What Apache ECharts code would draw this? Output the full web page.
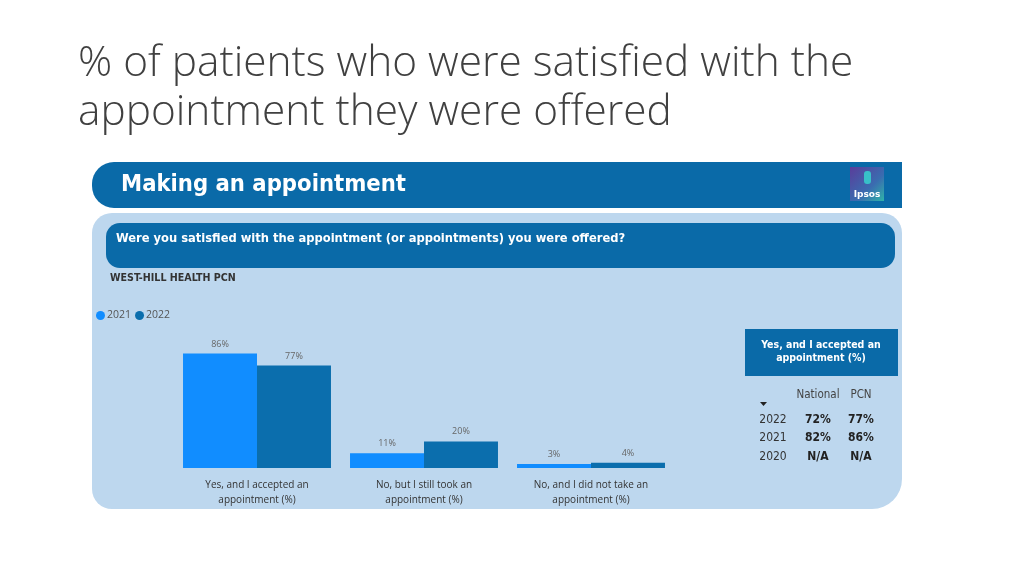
<!DOCTYPE html>
<html><head><meta charset="utf-8">
<script src="https://cdn.jsdelivr.net/npm/echarts@6/dist/echarts.min.js"></script>
<style>html,body{margin:0;padding:0;background:#fff}#c{width:1024px;height:576px}</style>
</head><body><div id="c"></div>
<script>
const categories = ['Yes, and I accepted an\nappointment (%)', 'No, but I still took an\nappointment (%)', 'No, and I did not take an\nappointment (%)'];
const values2021 = [86, 11, 3];
const values2022 = [77, 20, 4];
const seriesNames = ['2021', '2022'];
const tableYears = ['2022', '2021', '2020'];
const tableNational = ['72%', '82%', 'N/A'];
const tablePCN = ['77%', '86%', 'N/A'];

const C21 = '#118dff', C22 = '#0b6ead', DARK = '#0a6aa8', PANEL = '#bdd7ee';
const chart = echarts.init(document.getElementById('c'), null, {renderer: 'canvas'});
const g = [];
// page title
g.push({type:'text', left:78, top:39, z:100, style:{text:'% of patients who were satisfied with the\nappointment they were offered', fill:'#404040', font:'300 42.4px "Open Sans"', lineHeight:49}});
// header bar
g.push({type:'rect', shape:{x:92,y:162,width:810,height:46,r:[22,0,0,22]}, style:{fill:DARK}, z:0});
g.push({type:'text', left:121, top:173, z:100, style:{text:'Making an appointment', fill:'#fff', font:'bold 23.6px "DejaVu Sans Condensed"'}});
// ipsos logo
g.push({type:'rect', shape:{x:850,y:167,width:34,height:34}, style:{fill:new echarts.graphic.LinearGradient(0,0,1,1,[{offset:0,color:'#5a3d9a'},{offset:0.6,color:'#3a6cb0'},{offset:1,color:'#2fb3a8'}])}, z:1});
g.push({type:'rect', shape:{x:864,y:171,width:7,height:13,r:3}, style:{fill:'#38c0c8'}, z:2});
g.push({type:'text', x:867, y:195, z:100, style:{text:'Ipsos', fill:'#fff', font:'bold 9px "DejaVu Sans"', align:'center', verticalAlign:'middle'}});
// light panel
g.push({type:'rect', shape:{x:92,y:213,width:810,height:296,r:[20,20,30,20]}, style:{fill:PANEL}, z:0});
// question bar
g.push({type:'rect', shape:{x:106,y:223,width:789,height:45,r:14}, style:{fill:DARK}, z:1});
g.push({type:'text', left:116, top:232, z:100, style:{text:'Were you satisfied with the appointment (or appointments) you were offered?', fill:'#fff', font:'bold 12.8px "DejaVu Sans Condensed"'}});
g.push({type:'text', left:110, top:273, z:100, style:{text:'WEST-HILL HEALTH PCN', fill:'#333', font:'bold 10.6px "DejaVu Sans Condensed"'}});
// table
g.push({type:'rect', shape:{x:745,y:329,width:153,height:47}, style:{fill:DARK}, z:1});
g.push({type:'text', x:821, y:352, z:100, style:{text:'Yes, and I accepted an\nappointment (%)', fill:'#fff', font:'bold 10.5px "DejaVu Sans Condensed"', align:'center', verticalAlign:'middle', lineHeight:13}});
g.push({type:'text', x:818, y:395, z:100, style:{text:'National', fill:'#444', font:'11.5px "DejaVu Sans Condensed"', align:'center', verticalAlign:'middle'}});
g.push({type:'text', x:861, y:395, z:100, style:{text:'PCN', fill:'#444', font:'11.5px "DejaVu Sans Condensed"', align:'center', verticalAlign:'middle'}});
g.push({type:'polygon', shape:{points:[[760,402],[767,402],[763.5,406]]}, style:{fill:'#222'}, z:100});
const rowY = [420, 438, 457];
tableYears.forEach((y,i)=>{
  g.push({type:'text', x:773, y:rowY[i], z:100, style:{text:y, fill:'#333', font:'12px "DejaVu Sans Condensed"', align:'center', verticalAlign:'middle'}});
  g.push({type:'text', x:818, y:rowY[i], z:100, style:{text:tableNational[i], fill:'#222', font:'bold 12px "DejaVu Sans Condensed"', align:'center', verticalAlign:'middle'}});
  g.push({type:'text', x:861, y:rowY[i], z:100, style:{text:tablePCN[i], fill:'#222', font:'bold 12px "DejaVu Sans Condensed"', align:'center', verticalAlign:'middle'}});
});

const lbl = {show:true, position:'top', distance:5, formatter:'{c}%', color:'#666', fontSize:9, fontFamily:'Open Sans'};
chart.setOption({
  animation:false,
  graphic: g,
  legend:{left:91, top:305, itemWidth:9, itemHeight:9, itemGap:4, icon:'circle', textStyle:{fontSize:10.5, color:'#555', fontFamily:'Open Sans', padding:[0,0,0,-3]}, data:seriesNames},
  grid:{left:173.5, right:1024-674.5, top:335, bottom:576-468},
  xAxis:{type:'category', data:categories, axisLine:{show:false}, axisTick:{show:false},
    axisLabel:{color:'#333', fontSize:10, fontFamily:'Open Sans', lineHeight:15, margin:10}},
  yAxis:{type:'value', min:0, max:100, show:false},
  series:[
    {name:seriesNames[0], type:'bar', data:values2021, itemStyle:{color:C21}, barCategoryGap:'11.4%', barGap:'0%', label:lbl},
    {name:seriesNames[1], type:'bar', data:values2022, itemStyle:{color:C22}, barGap:'0%', label:lbl}
  ]
});
</script></body></html>
